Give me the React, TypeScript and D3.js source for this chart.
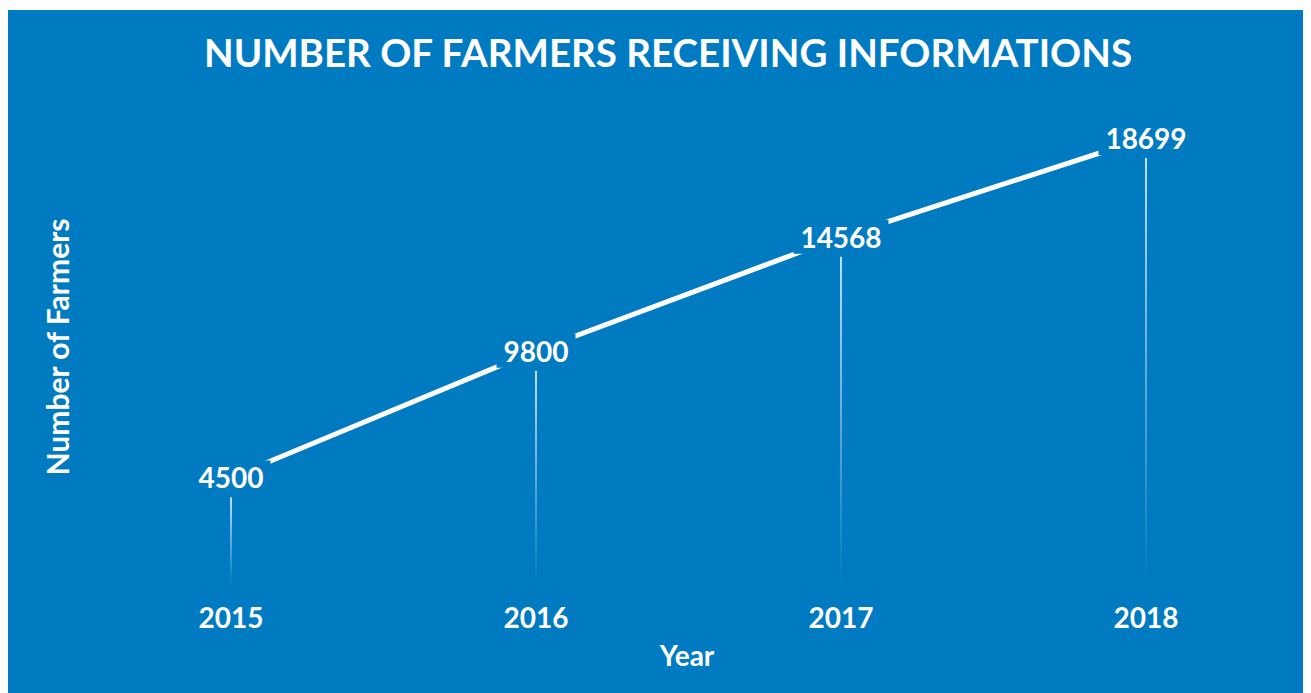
import React from "react";
import * as d3 from "d3";

const years = ["2015", "2016", "2017", "2018"];
const farmers = [4500, 9800, 14568, 18699];
const title = "NUMBER OF FARMERS RECEIVING INFORMATIONS";
const xTitle = "Year";
const yTitle = "Number of Farmers";

const W = 1303;
const H = 683;
const BG = "#007BC2";
const FONT = "Lato, 'Open Sans', 'Liberation Sans', sans-serif";

export default function App() {
  const x = d3.scalePoint<string>().domain(years).range([223, 1138]);
  const y = d3.scaleLinear().domain([0, 18699]).range([575, 128]);
  const data = years.map((yr, i) => ({ yr, v: farmers[i] }));
  const line = d3
    .line<{ yr: string; v: number }>()
    .x((d) => x(d.yr)!)
    .y((d) => y(d.v));
  return (
    <svg width={W} height={H} style={{ display: "block", marginTop: 2 }} fontFamily={FONT}>
      <defs>
        <linearGradient id="drop" x1="0" y1="0" x2="0" y2="1">
          <stop offset="0" stopColor="#ffffff" stopOpacity={1} />
          <stop offset="1" stopColor="#ffffff" stopOpacity={0} />
        </linearGradient>
      </defs>
      <rect x={0} y={0} width={W} height={H} fill={BG} />
      <text x={660} y={42} textAnchor="middle" dominantBaseline="central" fill="#fff" fontWeight="bold" fontSize={38.5}>
        {title}
      </text>
      {data.map((d) => (
        <rect
          key={"d" + d.yr}
          x={x(d.yr)! - 0.75}
          y={y(d.v) + 20}
          width={1.5}
          height={y(0) - y(d.v) - 20}
          fill="url(#drop)"
        />
      ))}
      <path d={line(data)!} fill="none" stroke="#fff" strokeWidth={5} />
      {data.map((d) => {
        const label = String(d.v);
        const w = label.length * 16 + 15;
        return (
          <g key={"l" + d.yr}>
            <rect x={x(d.yr)! - w / 2} y={y(d.v) - 17} width={w} height={34} fill={BG} />
            <text
              x={x(d.yr)!}
              y={y(d.v)}
              textAnchor="middle"
              dominantBaseline="central"
              fill="#fff"
              fontWeight="bold"
              fontSize={28}
            >
              {label}
            </text>
          </g>
        );
      })}
      {years.map((yr) => (
        <text
          key={"x" + yr}
          x={x(yr)!}
          y={607}
          textAnchor="middle"
          dominantBaseline="central"
          fill="#fff"
          fontWeight="bold"
          fontSize={28}
        >
          {yr}
        </text>
      ))}
      <text x={679} y={645} textAnchor="middle" dominantBaseline="central" fill="#fff" fontWeight="bold" fontSize={28}>
        {xTitle}
      </text>
      <text
        transform={`translate(49,337) rotate(-90)`}
        textAnchor="middle"
        dominantBaseline="central"
        fill="#fff"
        fontWeight="bold"
        fontSize={30}
      >
        {yTitle}
      </text>
    </svg>
  );
}
